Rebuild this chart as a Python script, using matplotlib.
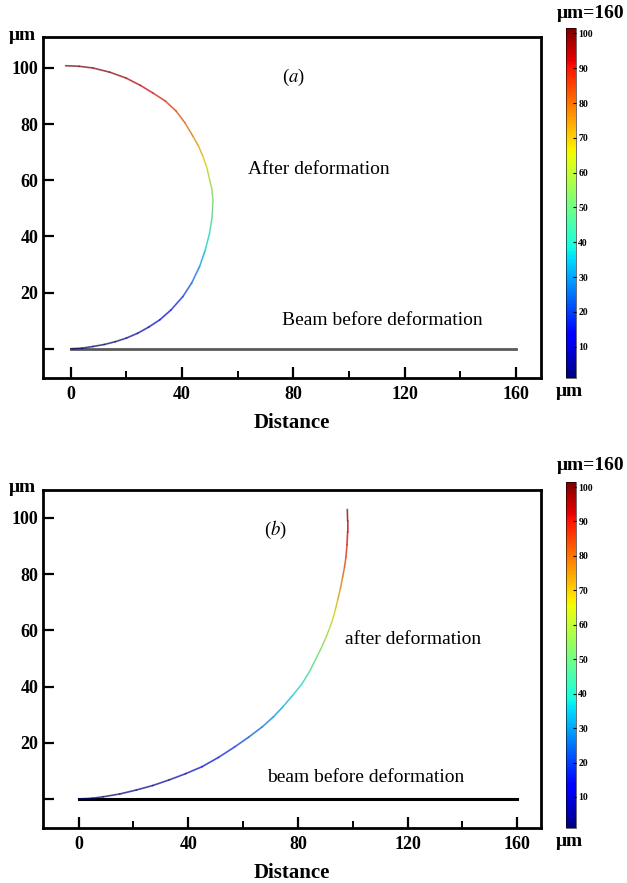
import numpy as np
import matplotlib
matplotlib.use("Agg")
import matplotlib.pyplot as plt
from matplotlib.collections import LineCollection
from matplotlib.colors import Normalize
from matplotlib.cm import ScalarMappable

plt.rcParams['font.family'] = ['Liberation Serif', 'DejaVu Serif']
plt.rcParams['mathtext.fontset'] = 'stix'

# Panel (a): beam bent into a half circle
curve_a_x = [0, 4, 8, 12, 16, 20, 24, 28, 32, 36, 40.3, 43.5, 46.3, 48.3, 49.9, 50.8,
             51.1, 50.7, 49.9, 48.9, 47.5, 45.9, 43.9, 41, 37.9, 34, 29.5, 25, 19.9,
             14, 7.9, 3, -1.9]
curve_a_y = [0, 0.2, 0.8, 1.5, 2.5, 3.8, 5.5, 7.7, 10.3, 13.8, 18.6, 23.5, 29.3, 35,
             41.2, 47, 53, 57, 60.2, 64.5, 68.5, 72.2, 75.7, 80.5, 84.6, 88.2, 91.1,
             93.8, 96.4, 98.5, 100, 100.6, 100.8]

# Panel (b): beam bent into a quarter arc
curve_b_x = [0, 5, 9, 15, 21, 27, 33, 39, 45, 51, 57, 62, 67, 71, 74.5, 78, 81.5,
             84.3, 86.6, 88.5, 90, 91.4, 92.6, 93.6, 94.5, 95.5, 96.3, 97, 97.5, 97.9,
             98.1, 98.1, 98]
curve_b_y = [0, 0.3, 0.8, 1.8, 3.2, 4.8, 6.8, 9, 11.5, 14.8, 18.6, 22, 25.7, 29.2,
             32.8, 36.8, 41, 45.5, 50, 53.7, 57, 60.4, 63.7, 67.2, 70.8, 75, 79, 82.6,
             86, 90.5, 95, 99, 103]

beam_x = [0, 160]
beam_y = [0, 0]

x_major = [0, 40, 80, 120, 160]
x_minor = [20, 60, 100, 140]
y_major = [0, 20, 40, 60, 80, 100]
y_labels = ["", "20", "40", "60", "80", "100"]
cbar_ticks = [10, 20, 30, 40, 50, 60, 70, 80, 90, 100]

norm = Normalize(vmin=1, vmax=101.5)
cmap = plt.cm.jet


def colored_curve(ax, xs, ys):
    pts = np.column_stack([xs, ys])
    segs = np.stack([pts[:-1], pts[1:]], axis=1)
    vals = 0.5 * (np.array(ys[:-1]) + np.array(ys[1:]))
    # faint dark core under the coloured line, like the original rendering
    ax.plot(xs, ys, color='#202030', lw=0.7, alpha=0.5, solid_capstyle='round')
    lc = LineCollection(segs, cmap=cmap, norm=norm, linewidths=1.3, alpha=0.55,
                        capstyle='round', joinstyle='round')
    lc.set_array(vals)
    ax.add_collection(lc)


def style_axes(ax, xlim, ylim):
    ax.set_xlim(*xlim)
    ax.set_ylim(*ylim)
    for s in ax.spines.values():
        s.set_linewidth(2)
    ax.set_xticks(x_major)
    ax.set_xticks(x_minor, minor=True)
    ax.set_yticks(y_major)
    ax.set_yticklabels(y_labels)
    ax.tick_params(axis='both', which='major', direction='in', length=8, width=1.6,
                   labelsize=13, top=False, right=False)
    ax.tick_params(axis='x', which='minor', direction='in', length=5, width=1.4, top=False)
    ax.tick_params(axis='x', pad=6)
    for lab in ax.get_xticklabels() + ax.get_yticklabels():
        lab.set_fontweight('bold')
    ax.set_xlabel("Distance", fontsize=15, fontweight='bold', labelpad=7)


def add_colorbar(fig, rect):
    cax = fig.add_axes(rect)
    cb = fig.colorbar(ScalarMappable(norm=norm, cmap=cmap), cax=cax)
    cb.set_ticks(cbar_ticks)
    cb.outline.set_linewidth(0.4)
    cax.tick_params(direction='in', length=2, width=0.8, labelsize=7, pad=2)
    for lab in cax.get_yticklabels():
        lab.set_fontweight('bold')
    return cax


fig = plt.figure(figsize=(6.27, 8.83), dpi=100)

# ---- panel (a)
ax1 = fig.add_axes([0.0686, 0.572, 0.794, 0.386])
ax1.plot(beam_x, beam_y, color='#5a5a5a', lw=2)
colored_curve(ax1, curve_a_x, curve_a_y)
style_axes(ax1, (-10, 169), (-10.4, 111))
ax1.text(80, 96.6, "($\\mathit{a}$)", fontsize=13.5, ha='center', va='center')
ax1.text(89, 63.8, "After deformation", fontsize=14, ha='center', va='center')
ax1.text(112, 10, "Beam before deformation", fontsize=14, ha='center', va='center')
add_colorbar(fig, [0.9035, 0.572, 0.0145, 0.396])

# ---- panel (b)
ax2 = fig.add_axes([0.0686, 0.0623, 0.794, 0.383])
ax2.plot(beam_x, beam_y, color='black', lw=2.2)
colored_curve(ax2, curve_b_x, curve_b_y)
style_axes(ax2, (-13, 168.6), (-10.3, 110))
ax2.text(71.8, 95.7, "($\\mathit{b}$)", fontsize=13.5, ha='center', va='center')
ax2.text(122, 56.6, "after deformation", fontsize=14, ha='center', va='center')
ax2.text(104.6, 7.5, "beam before deformation", fontsize=14, ha='center', va='center')
add_colorbar(fig, [0.9035, 0.0623, 0.0145, 0.392])

# unit labels
for y_top, y_cb, y_bot in [(35, 13, 392), (487, 466, 842)]:
    fig.text(22 / 627, 1 - y_top / 883, "\u03bcm", fontsize=14, fontweight='bold',
             ha='center', va='center')
    fig.text(591 / 627, 1 - y_cb / 883, "\u03bcm=160", fontsize=14, fontweight='bold',
             ha='center', va='center')
    fig.text(569 / 627, 1 - y_bot / 883, "\u03bcm", fontsize=14, fontweight='bold',
             ha='center', va='center')

fig.savefig("out.png", dpi=100)
